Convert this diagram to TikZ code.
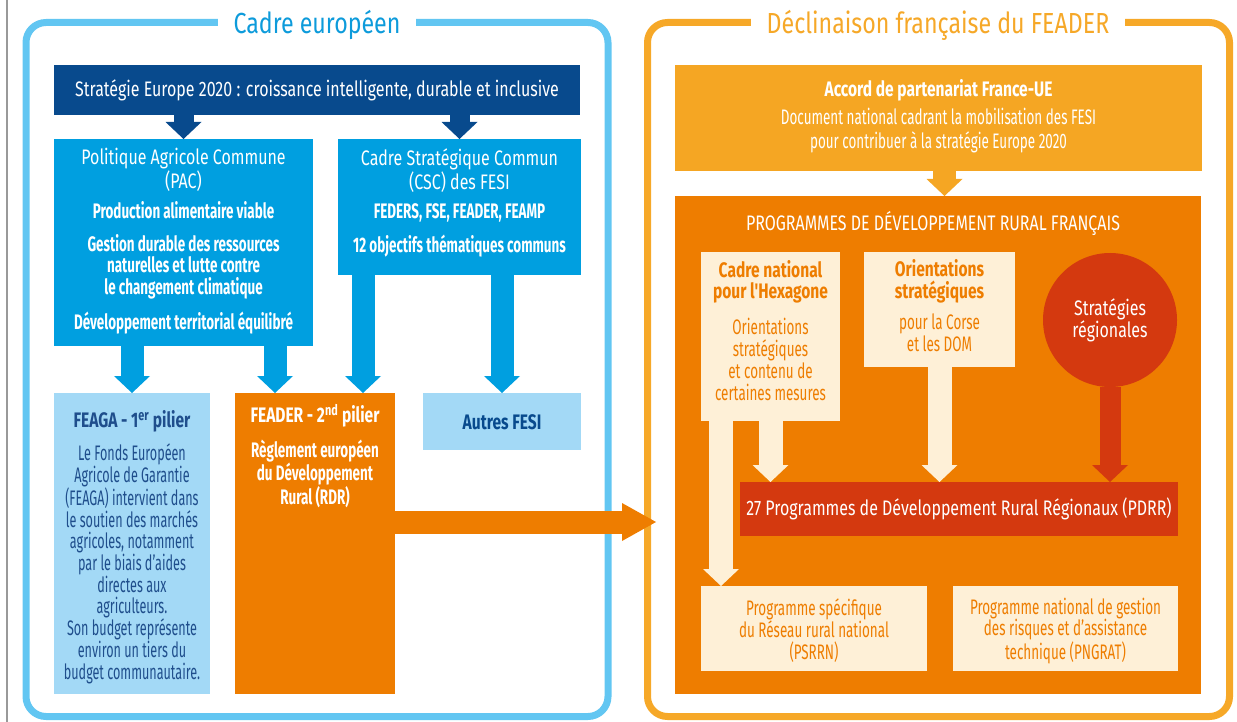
\documentclass[tikz,border=0pt]{standalone}
\usepackage{fontspec}
\setmainfont{Fira Sans}[FakeStretch=0.76, BoldFeatures={FakeStretch=0.64}]
\newfontfamily\titlefont{Fira Sans}[FakeStretch=0.8]
\newfontfamily\headfont{Fira Sans}[FakeStretch=0.74]
\newfontfamily\narrowfont{Fira Sans}[FakeStretch=0.64]
\newfontfamily\feagafont{Fira Sans}[FakeStretch=0.6]
\usetikzlibrary{arrows.meta}

\definecolor{framelight}{HTML}{62C6F2}
\definecolor{titleblue}{HTML}{0D9BDB}
\definecolor{darkblue}{HTML}{084A8D}
\definecolor{pacblue}{HTML}{009FE0}
\definecolor{paleblue}{HTML}{A3D9F6}
\definecolor{feagatext}{HTML}{1F4E8C}
\definecolor{frameorange}{HTML}{F6A828}
\definecolor{accordorange}{HTML}{F5A623}
\definecolor{feaderorange}{HTML}{EE7D00}
\definecolor{cream}{HTML}{FEF0D7}
\definecolor{redbrown}{HTML}{D4390F}

\begin{document}
\begin{tikzpicture}[x=1pt, y=-1pt]
\tikzstyle{box}=[rectangle, inner sep=0pt, outer sep=0pt]
\tikzstyle{txt}=[align=center, inner sep=0pt, anchor=base, font=\fontsize{21}{21.7}\selectfont]
\tikzstyle{fat}=[line width=23pt, -{Triangle[length=17pt 0 0, width=36pt 0 0, line width=0pt 0 0]}]
\tikzstyle{frametitle}=[fill=white, inner xsep=16pt, inner ysep=2pt, anchor=base, font=\titlefont\fontsize{29}{30}\selectfont]

\useasboundingbox (0,0) rectangle (1237,722);
\draw[gray!80, line width=1.5pt] (7,0) -- (7,722);

\draw[framelight, line width=7pt, rounded corners=20pt] (26,22.5) rectangle (608,716.5);
\draw[frameorange, line width=7pt, rounded corners=20pt] (647.5,22.5) rectangle (1229.5,716.5);
\node[frametitle, text=titleblue] (cadretitle) at (317,34) {Cadre européen};
\node[frametitle, text=frameorange] (feadertitle) at (938,34) {Déclinaison française du FEADER};

% cadre europeen
\node[box, fill=darkblue, minimum width=526pt, minimum height=50pt] (europe) at (317,90) {};
\node[box, fill=pacblue, minimum width=259pt, minimum height=207pt] (pac) at (183.5,242.5) {};
\node[box, fill=pacblue, minimum width=243pt, minimum height=136pt] (csc) at (459.5,207) {};
\node[box, fill=paleblue, minimum width=156pt, minimum height=301pt] (feaga) at (132,543.5) {};
\node[box, fill=feaderorange, minimum width=160pt, minimum height=301pt] (feader) at (315,543.5) {};
\node[box, fill=paleblue, minimum width=158pt, minimum height=57pt] (autres) at (502,421.5) {};

% declinaison francaise
\node[box, fill=accordorange, minimum width=527pt, minimum height=106pt] (accord) at (938.5,118) {};
\node[box, fill=feaderorange, minimum width=526pt, minimum height=498pt] (pdr) at (938,445) {};
\node[box, fill=cream, minimum width=139pt, minimum height=169pt] (cadrenat) at (770.5,336.5) {};
\node[box, fill=cream, minimum width=151pt, minimum height=115pt] (orient) at (939.5,309.5) {};
\node[circle, fill=redbrown, minimum size=134pt, inner sep=0pt, outer sep=0pt] (regions) at (1110,320) {};
\node[box, fill=redbrown, minimum width=438pt, minimum height=54pt] (pdrr) at (959,509) {};
\node[box, fill=cream, minimum width=226pt, minimum height=85pt] (psrrn) at (814,628.5) {};
\node[box, fill=cream, minimum width=225pt, minimum height=85pt] (pngrat) at (1065.5,628.5) {};

\coordinate (pacfeader) at ([xshift=-40pt]feader.north);
\coordinate (cscfeader) at ([xshift=48pt]feader.north);
\coordinate (toright) at (656,522);
\coordinate (accordout) at ([xshift=6pt]accord.south);
\coordinate (cadreleft) at ([xshift=-49.5pt]cadrenat.south);

\draw[fat, darkblue, line width=20pt] (pac.north |- europe.south) -- (pac.north);
\draw[fat, darkblue, line width=20pt] (csc.north |- europe.south) -- (csc.north);
\draw[fat, pacblue] (pac.south -| feaga.north) -- (feaga.north);
\draw[fat, pacblue] (pacfeader |- pac.south) -- (pacfeader);
\draw[fat, pacblue] (cscfeader |- csc.south) -- (cscfeader);
\draw[fat, pacblue] (autres.north |- csc.south) -- (autres.north);
\draw[fat, feaderorange, -{Triangle[length=34pt 0 0, width=38pt 0 0, line width=0pt 0 0]}] (feader.east |- toright) -- (toright);
\draw[fat, accordorange] (accordout) -- (accordout |- pdr.north);
\draw[fat, cream, line width=24pt] (cadrenat.south) -- (cadrenat.south |- pdrr.north);
\draw[fat, cream, line width=24pt] (cadreleft) -- (cadreleft |- psrrn.north);
\draw[fat, cream, line width=24pt] (orient.south) -- (orient.south |- pdrr.north);
\draw[fat, redbrown, line width=21pt] (regions.south) -- (regions.south |- pdrr.north);

\node[txt, text=white] (europetext) at (317,97) {Stratégie Europe 2020 : croissance intelligente, durable et inclusive};
\node[txt, text=white] (pactext) at (183.5,329) {Politique Agricole Commune\\[1pt](PAC)\\[8pt]
  \textbf{Production alimentaire viable}\\[11.3pt]
  \textbf{Gestion durable des ressources}\\\textbf{naturelles et lutte contre}\\\textbf{le changement climatique}\\[11.3pt]
  \textbf{Développement territorial équilibré}};
\node[txt, text=white] (csctext) at (459.5,252) {Cadre Stratégique Commun\\[1pt](CSC) des FESI\\[8pt]
  \textbf{FEDERS, FSE, FEADER, FEAMP}\\[11.3pt]
  \textbf{12 objectifs thématiques communs}};
\node[txt, text=feagatext, font=\feagafont\fontsize{21}{21.7}\selectfont] (feagatext) at (132,679) {{\headfont\bfseries FEAGA - 1\textsuperscript{er} pilier}\\[11pt]
  Le Fonds Européen\\Agricole de Garantie\\(FEAGA) intervient dans\\le soutien des marchés\\agricoles, notamment\\par le biais d’aides\\directes aux\\agriculteurs.\\Son budget représente\\environ un tiers du\\budget communautaire.};
\node[txt, text=white] (feadertext) at (315,504) {{\headfont\bfseries FEADER - 2\textsuperscript{nd} pilier}\\[11pt]
  \textbf{Règlement européen}\\\textbf{du Développement}\\\textbf{Rural (RDR)}};
\node[txt, text=darkblue, font=\headfont\bfseries\fontsize{21}{21.7}\selectfont] (autrestext) at (502,429) {Autres FESI};

\node[txt, text=white, font=\narrowfont\fontsize{21}{21.7}\selectfont] (accordtext) at (938.5,149) {{\headfont\bfseries Accord de partenariat France-UE}\\[6.3pt]
  Document national cadrant la mobilisation des FESI\\[2.3pt]pour contribuer à la stratégie Europe 2020};
\node[txt, text=white] (pdrtext) at (933,230) {PROGRAMMES DE DÉVELOPPEMENT RURAL FRANÇAIS};
\node[txt, text=feaderorange, font=\narrowfont\fontsize{21}{21.7}\selectfont] (cadrenattext) at (770.5,400) {{\headfont\bfseries Cadre national}\\{\headfont\bfseries pour l'Hexagone}\\[14.3pt]
  Orientations\\stratégiques\\et contenu de\\certaines mesures};
\node[txt, text=feaderorange, font=\narrowfont\fontsize{21}{21.7}\selectfont] (orienttext) at (939.5,351) {{\headfont\bfseries Orientations}\\{\headfont\bfseries stratégiques}\\[9.3pt]
  pour la Corse\\et les DOM};
\node[txt, text=white] (regionstext) at (1110,337) {Stratégies\\régionales};
\node[txt, text=white] (pdrrtext) at (959,515) {27 Programmes de Développement Rural Régionaux (PDRR)};
\node[txt, text=feaderorange, font=\narrowfont\fontsize{21}{21.7}\selectfont] (psrrntext) at (814,659) {Programme spécifique\\du Réseau rural national\\(PSRRN)};
\node[txt, text=feaderorange, font=\narrowfont\fontsize{21}{21.7}\selectfont] (pngrattext) at (1065.5,659) {Programme national de gestion\\des risques et d’assistance\\technique (PNGRAT)};
\end{tikzpicture}
\end{document}
